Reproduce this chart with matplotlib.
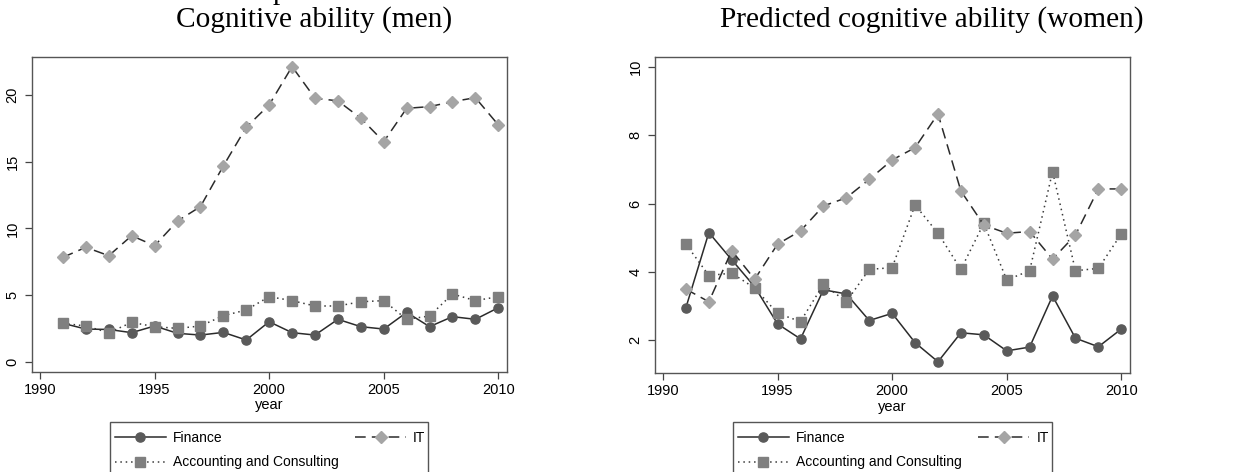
import matplotlib
matplotlib.use("Agg")
import matplotlib.pyplot as plt
from matplotlib.patches import Rectangle

years = list(range(1991, 2011))

men_finance = [2.88, 2.45, 2.42, 2.18, 2.68, 2.13, 2.00, 2.20, 1.63, 3.00,
               2.18, 2.00, 3.18, 2.63, 2.45, 3.70, 2.63, 3.38, 3.18, 4.05]
men_acc = [2.88, 2.68, 2.18, 2.95, 2.63, 2.50, 2.68, 3.45, 3.88, 4.88,
           4.58, 4.18, 4.18, 4.50, 4.58, 3.18, 3.43, 5.08, 4.58, 4.88]
men_it = [7.83, 8.58, 7.95, 9.45, 8.70, 10.55, 11.63, 14.68, 17.58, 19.26,
          22.13, 19.76, 19.56, 18.26, 16.50, 19.00, 19.13, 19.50, 19.80, 17.76]

women_finance = [2.95, 5.15, 4.35, 3.56, 2.47, 2.03, 3.47, 3.35, 2.57, 2.78,
                 1.92, 1.36, 2.21, 2.15, 1.68, 1.79, 3.29, 2.05, 1.80, 2.32]
women_acc = [4.81, 3.89, 3.96, 3.52, 2.78, 2.54, 3.63, 3.12, 4.07, 4.12,
             5.96, 5.13, 4.07, 5.42, 3.76, 4.03, 6.94, 4.03, 4.10, 5.11]
women_it = [3.49, 3.12, 4.62, 3.78, 4.81, 5.20, 5.93, 6.17, 6.71, 7.28,
            7.64, 8.63, 6.37, 5.37, 5.13, 5.18, 4.37, 5.08, 6.43, 6.43]

titles = ["Cognitive ability (men)", "Predicted cognitive ability (women)"]
xticks = [1990, 1995, 2000, 2005, 2010]
yticks_men = [0, 5, 10, 15, 20]
yticks_women = [2, 4, 6, 8, 10]

W, H = 1239, 472
fig = plt.figure(figsize=(W / 100, H / 100), dpi=100)

def fx(px):
    return px / W

def fy(py):
    return 1 - py / H

tick_font = "Liberation Sans"
title_font = "Liberation Serif"

panels = [
    dict(box=(32, 57, 507, 372), ylim=(-0.77, 22.85), yticks=yticks_men,
         data=(men_finance, men_acc, men_it), title_x=314,
         frame=(110, 421.7, 428)),
    dict(box=(655, 57, 1130, 373), ylim=(1.03, 10.3), yticks=yticks_women,
         data=(women_finance, women_acc, women_it), title_x=932,
         frame=(733, 421.7, 1052)),
]

for i, p in enumerate(panels):
    x0, y0, x1, y1 = p["box"]
    ax = fig.add_axes([fx(x0), fy(y1), fx(x1 - x0), (y1 - y0) / H])
    fin, acc, it = p["data"]
    l1, = ax.plot(years, fin, color="#2b2b2b", lw=1.1, ls="-", marker="o",
                  ms=6.6, mfc="#5a5a5a", mec="#5a5a5a", label="Finance")
    l2, = ax.plot(years, acc, color="#3a3a3a", lw=1.1, ls=(0, (1, 2.5)),
                  marker="s", ms=6.6, mfc="#7f7f7f", mec="#7f7f7f",
                  label="Accounting and Consulting")
    l3, = ax.plot(years, it, color="#2b2b2b", lw=1.1, ls=(0, (7, 4)),
                  marker="D", ms=6.6, mfc="#a5a5a5", mec="#a5a5a5", label="IT")
    ax.set_xlim(1989.65, 2010.38)
    ax.set_ylim(*p["ylim"])
    ax.set_xticks(xticks)
    ax.set_yticks(p["yticks"])
    ax.set_xticklabels([str(v) for v in xticks], fontfamily=tick_font, fontsize=10.5)
    ax.set_yticklabels([str(v) for v in p["yticks"]], fontfamily=tick_font,
                       fontsize=10.5, rotation=90, va="center")
    ax.tick_params(axis="both", direction="out", length=5, width=0.9,
                   color="#444444")
    ax.tick_params(axis="x", pad=3)
    ax.tick_params(axis="y", pad=4)
    for s in ax.spines.values():
        s.set_color("#555555")
        s.set_linewidth(1.0)
    ax.set_xlabel("year", fontfamily=tick_font, fontsize=10.5, labelpad=1)
    fig.text(fx(p["title_x"]), fy(20), titles[i], fontfamily=title_font,
             fontsize=21.2, ha="center", va="center")

    # legend frame (extends past the bottom edge, as in the original)
    lx0, ly0, lx1 = p["frame"]
    fig.patches.append(Rectangle((fx(lx0), fy(ly0 + 80)), fx(lx1 - lx0), 80 / H,
                                 transform=fig.transFigure, fill=False,
                                 edgecolor="#555555", linewidth=1.0))
    fig.legend(handles=[l1, l2, l3],
               labels=["Finance", "Accounting and Consulting", "IT"],
               ncol=2, loc="upper left",
               bbox_to_anchor=(fx(lx0 + 5), fy(ly0 + 9.5)),
               bbox_transform=fig.transFigure,
               prop={"family": tick_font, "size": 10},
               frameon=False, borderpad=0, borderaxespad=0,
               handlelength=3.67, handletextpad=0.5, columnspacing=1.2,
               labelspacing=0.74)

# descender of a cut-off line at the very top
fig.text(fx(280), 1 + 1.5 / H, "p", fontfamily=title_font, fontsize=21.2,
         ha="center", va="baseline")

fig.savefig("out.png", dpi=100, facecolor="white")
